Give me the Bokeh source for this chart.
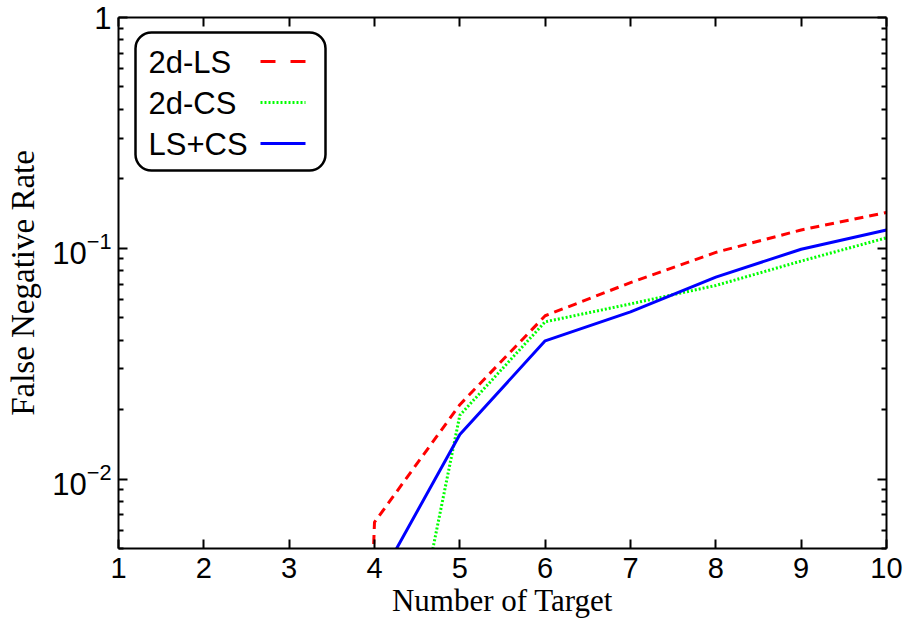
from bokeh.plotting import figure
from bokeh.models import (LinearAxis, LogAxis, FixedTicker, Label, BoxAnnotation,
                          Arrow, Range1d)
from bokeh.embed import file_html
from bokeh.resources import INLINE

# Number of targets and false negative rate of each method
targets = [1, 2, 3, 4, 5, 6, 7, 8, 9, 10]
fnr_2d_ls = [1e-12, 1e-12, 1e-12, 0.0065, 0.021, 0.051, 0.071, 0.096, 0.12, 0.143]
fnr_2d_cs = [1e-12, 1e-12, 1e-12, 0.00028, 0.0189, 0.048, 0.0574, 0.069, 0.088, 0.111]
fnr_ls_cs = [1e-12, 1e-12, 1e-12, 0.00336, 0.0156, 0.0397, 0.053, 0.075, 0.099, 0.12]

series_names = ["2d-LS", "2d-CS", "LS+CS"]
series_colors = ["#ff0000", "#00ff00", "#0000ff"]
series_dash = ["9 6", "2 2", "solid"]

y_major = [0.01, 0.1, 1]
y_minor = [0.005, 0.006, 0.007, 0.008, 0.009,
           0.02, 0.03, 0.04, 0.05, 0.06, 0.07, 0.08, 0.09,
           0.2, 0.3, 0.4, 0.5, 0.6, 0.7, 0.8, 0.9]

SANS = "Liberation Sans"
SERIF = "Liberation Serif"

p = figure(width=914, height=623, x_range=Range1d(1, 10), y_range=Range1d(0.005, 1),
           y_axis_type="log", output_backend="svg", toolbar_location=None,
           min_border_left=118, min_border_right=28, min_border_top=17,
           min_border_bottom=75, x_axis_location=None, y_axis_location=None)
p.outline_line_color = None
p.xgrid.visible = False
p.ygrid.visible = False
p.background_fill_color = "white"
p.border_fill_color = "white"


def style_axis(ax):
    ax.axis_line_color = "black"
    ax.axis_line_width = 2
    ax.major_tick_in = 9
    ax.major_tick_out = 0
    ax.major_tick_line_width = 2
    ax.major_tick_line_color = "black"
    ax.minor_tick_in = 5
    ax.minor_tick_out = 0
    ax.minor_tick_line_width = 2
    ax.minor_tick_line_color = "black"
    ax.major_label_text_color = "black"
    ax.axis_label_text_color = "black"


xb = LinearAxis(ticker=FixedTicker(ticks=targets), axis_label="Number of Target")
style_axis(xb)
xb.major_label_text_font = SANS
xb.major_label_text_font_size = "29px"
xb.major_label_standoff = 9
xb.axis_label_text_font = SERIF
xb.axis_label_text_font_size = "31px"
xb.axis_label_text_font_style = "normal"
xb.axis_label_standoff = 2
p.add_layout(xb, "below")

# Box on the top: ticks only
xt = LinearAxis(ticker=FixedTicker(ticks=targets))
style_axis(xt)
xt.major_label_overrides = {t: "" for t in targets}
xt.major_label_standoff = 0
p.add_layout(xt, "above")

yl = LogAxis(ticker=FixedTicker(ticks=y_major, minor_ticks=y_minor),
             axis_label="False Negative Rate")
style_axis(yl)
yl.major_label_text_font = SANS
yl.major_label_text_font_size = "31px"
yl.major_label_standoff = 7
yl.major_label_overrides = {1: "1"}
yl.axis_label_text_font = SERIF
yl.axis_label_text_font_size = "33px"
yl.axis_label_text_font_style = "normal"
yl.axis_label_standoff = 8
p.add_layout(yl, "left")

# Box on the right: ticks only
yr = LogAxis(ticker=FixedTicker(ticks=y_major, minor_ticks=y_minor))
style_axis(yr)
yr.major_label_overrides = {t: "" for t in y_major}
yr.major_label_standoff = 0
p.add_layout(yr, "right")

for vals, color, dash in zip([fnr_2d_ls, fnr_2d_cs, fnr_ls_cs], series_colors, series_dash):
    p.line(targets, vals, line_color=color, line_width=3, line_dash=dash)

# Legend box (screen units, label on the left, line sample on the right)
p.add_layout(BoxAnnotation(left=17, right=207, top=516, bottom=378,
                           left_units="screen", right_units="screen",
                           top_units="screen", bottom_units="screen",
                           fill_color="white", fill_alpha=1.0,
                           line_color="black", line_alpha=1.0, line_width=2.5,
                           border_radius=16))
legend_dash = ["15 15", "2 2", "solid"]
for i, (name, color, dash) in enumerate(zip(series_names, series_colors, legend_dash)):
    ycen = 486 - i * 41
    p.add_layout(Label(x=30, y=ycen, x_units="screen", y_units="screen", text=name,
                       text_font=SANS, text_font_size="31px", text_baseline="middle",
                       text_align="left", text_color="black"))
    p.add_layout(Arrow(x_start=142, y_start=ycen + 1, x_end=187, y_end=ycen + 1,
                       start_units="screen", end_units="screen", end=None,
                       line_color=color, line_width=3, line_dash=dash))

open("out.html", "w").write(file_html(p, INLINE))
